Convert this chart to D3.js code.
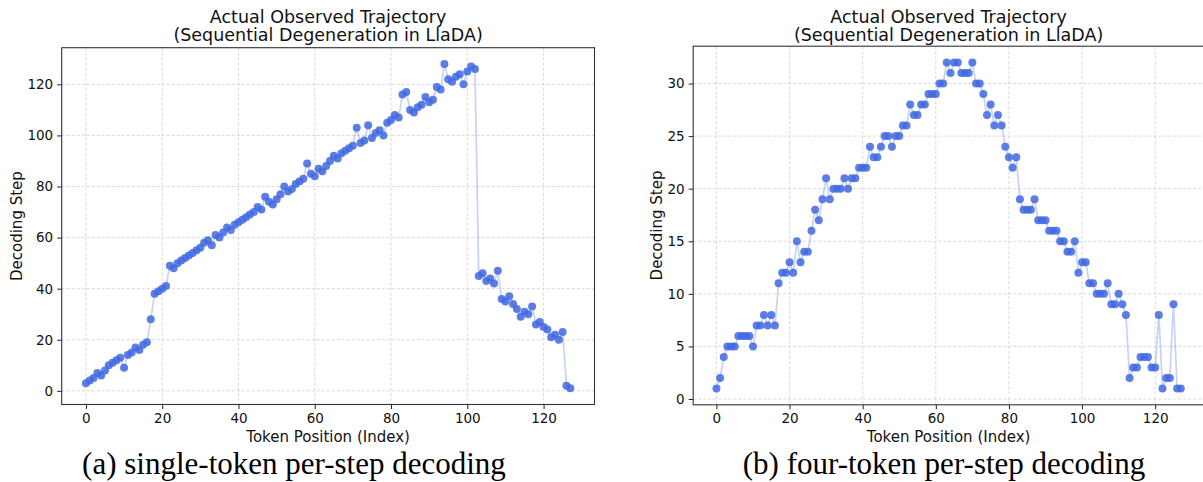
<!DOCTYPE html>
<html>
<head>
<meta charset="utf-8">
<script src="https://cdn.jsdelivr.net/npm/d3@7"></script>
<style>
  html, body { margin: 0; padding: 0; background: #fff; }
  svg { display: block; }
</style>
</head>
<body>
<svg id="chart" width="1203" height="482"></svg>
<script>
// ---------- data ----------
const singleTokenSteps = [
  3, 4, 5, 7, 6, 8, 10, 11, 12, 13, 9, 14, 15, 17, 16, 18, 19, 28, 38, 39,
  40, 41, 49, 48, 50, 51, 52, 53, 54, 55, 56, 58, 59, 57, 61, 60, 62, 64, 63, 65,
  66, 67, 68, 69, 70, 72, 71, 76, 74, 73, 75, 77, 80, 78, 79, 81, 82, 83, 89, 85,
  84, 87, 86, 88, 90, 92, 91, 93, 94, 95, 96, 103, 97, 98, 104, 99, 101, 102, 100, 105,
  106, 108, 107, 116, 117, 110, 109, 111, 112, 115, 113, 114, 119, 118, 128, 122, 121, 123, 124, 120,
  125, 127, 126, 45, 46, 43, 44, 42, 47, 36, 35, 37, 34, 32, 29, 31, 30, 33, 26, 27,
  25, 24, 21, 22, 20, 23, 2, 1
];
const fourTokenSteps = [
  1, 2, 4, 5, 5, 5, 6, 6, 6, 6, 5, 7, 7, 8, 7, 8, 7, 11, 12, 12,
  13, 12, 15, 13, 14, 14, 16, 18, 17, 19, 21, 19, 20, 20, 20, 21, 20, 21, 21, 22,
  22, 22, 24, 23, 23, 24, 25, 25, 24, 25, 25, 26, 26, 28, 27, 27, 28, 28, 29, 29,
  29, 30, 30, 32, 31, 32, 32, 31, 31, 31, 32, 30, 30, 29, 27, 28, 26, 27, 26, 24,
  23, 22, 23, 19, 18, 18, 18, 19, 17, 17, 17, 16, 16, 16, 15, 15, 14, 14, 15, 12,
  13, 13, 11, 11, 10, 10, 10, 11, 9, 9, 10, 9, 8, 2, 3, 3, 4, 4, 4, 3,
  3, 8, 1, 2, 2, 9, 1, 1
];
const xTicks = [0, 20, 40, 60, 80, 100, 120];
const yTicksA = [0, 20, 40, 60, 80, 100, 120];
const yTicksB = [0, 5, 10, 15, 20, 25, 30];
const titleLines = ["Actual Observed Trajectory", "(Sequential Degeneration in LlaDA)"];
const xLabel = "Token Position (Index)";
const yLabel = "Decoding Step";
const captionA = "(a) single-token per-step decoding";
const captionB = "(b) four-token per-step decoding";

// ---------- drawing ----------
const svg = d3.select("#chart");
const SANS = "DejaVu Sans, sans-serif";
const SERIF = "Liberation Serif, Times New Roman, serif";
const BLUE = "#4169E1";

function padDomain(lo, hi) {
  const p = (hi - lo) * 0.05;
  return [lo - p, hi + p];
}

function panel(cfg) {
  const { values, yTicks, left, right, top, bottom, caption, captionX, yLabelX } = cfg;
  const x = d3.scaleLinear().domain(padDomain(0, values.length - 1)).range([left, right]);
  const y = d3.scaleLinear().domain(padDomain(d3.min(values), d3.max(values))).range([bottom, top]);
  const g = svg.append("g");

  // grid
  const grid = g.append("g").attr("stroke", "#c8c8c8").attr("stroke-width", 0.8)
    .attr("stroke-dasharray", "3,2").attr("opacity", 0.85);
  grid.selectAll(".vg").data(xTicks).join("line")
    .attr("x1", d => x(d)).attr("x2", d => x(d)).attr("y1", top).attr("y2", bottom);
  grid.selectAll(".hg").data(yTicks).join("line")
    .attr("x1", left).attr("x2", right).attr("y1", d => y(d)).attr("y2", d => y(d));

  // line
  const line = d3.line().x((d, i) => x(i)).y(d => y(d));
  g.append("path").datum(values).attr("d", line)
    .attr("fill", "none").attr("stroke", BLUE).attr("stroke-opacity", 0.3).attr("stroke-width", 1.7);

  // points
  g.append("g").selectAll("circle").data(values).join("circle")
    .attr("cx", (d, i) => x(i)).attr("cy", d => y(d)).attr("r", 4)
    .attr("fill", BLUE).attr("fill-opacity", 0.85);

  // axes
  const xAxis = d3.axisBottom(x).tickValues(xTicks).tickSize(4.5).tickPadding(4).tickFormat(d3.format("d"));
  const gx = g.append("g").attr("transform", `translate(0,${bottom})`).call(xAxis);
  const yAxis = d3.axisLeft(y).tickValues(yTicks).tickSize(4.5).tickPadding(4).tickFormat(d3.format("d"));
  const gy = g.append("g").attr("transform", `translate(${left},0)`).call(yAxis);
  [gx, gy].forEach(a => {
    a.select(".domain").remove();
    a.selectAll(".tick line").attr("stroke", "#222").attr("stroke-width", 1);
    a.selectAll(".tick text").attr("font-family", SANS).attr("font-size", 13.5).attr("fill", "#111");
  });

  // frame
  g.append("rect").attr("x", left).attr("y", top).attr("width", right - left).attr("height", bottom - top)
    .attr("fill", "none").attr("stroke", "#333").attr("stroke-width", 1.1);

  // title
  const cx = (left + right) / 2;
  g.append("text").attr("x", cx).attr("y", 22.5).attr("text-anchor", "middle")
    .attr("font-family", SANS).attr("font-size", 17.5).attr("fill", "#111").text(titleLines[0]);
  g.append("text").attr("x", cx).attr("y", 40.5).attr("text-anchor", "middle")
    .attr("font-family", SANS).attr("font-size", 17.5).attr("fill", "#111").text(titleLines[1]);

  // axis labels
  g.append("text").attr("x", x((values.length - 1) / 2)).attr("y", 442).attr("text-anchor", "middle")
    .attr("font-family", SANS).attr("font-size", 15).attr("fill", "#111").text(xLabel);
  g.append("text").attr("transform", `translate(${yLabelX},${(top + bottom) / 2}) rotate(-90)`)
    .attr("text-anchor", "middle").attr("font-family", SANS).attr("font-size", 15).attr("fill", "#111")
    .text(yLabel);

  // caption
  svg.append("text").attr("x", captionX).attr("y", 474).attr("text-anchor", "middle")
    .attr("font-family", SERIF).attr("font-size", 31).attr("fill", "#000").text(caption);
}

panel({ values: singleTokenSteps, yTicks: yTicksA, left: 61.7, right: 594.5, top: 47.7, bottom: 404.5,
        caption: captionA, captionX: 294, yLabelX: 22 });
panel({ values: fourTokenSteps, yTicks: yTicksB, left: 693.2, right: 1204, top: 46.2, bottom: 404.8,
        caption: captionB, captionX: 944, yLabelX: 662 });
</script>
</body>
</html>
